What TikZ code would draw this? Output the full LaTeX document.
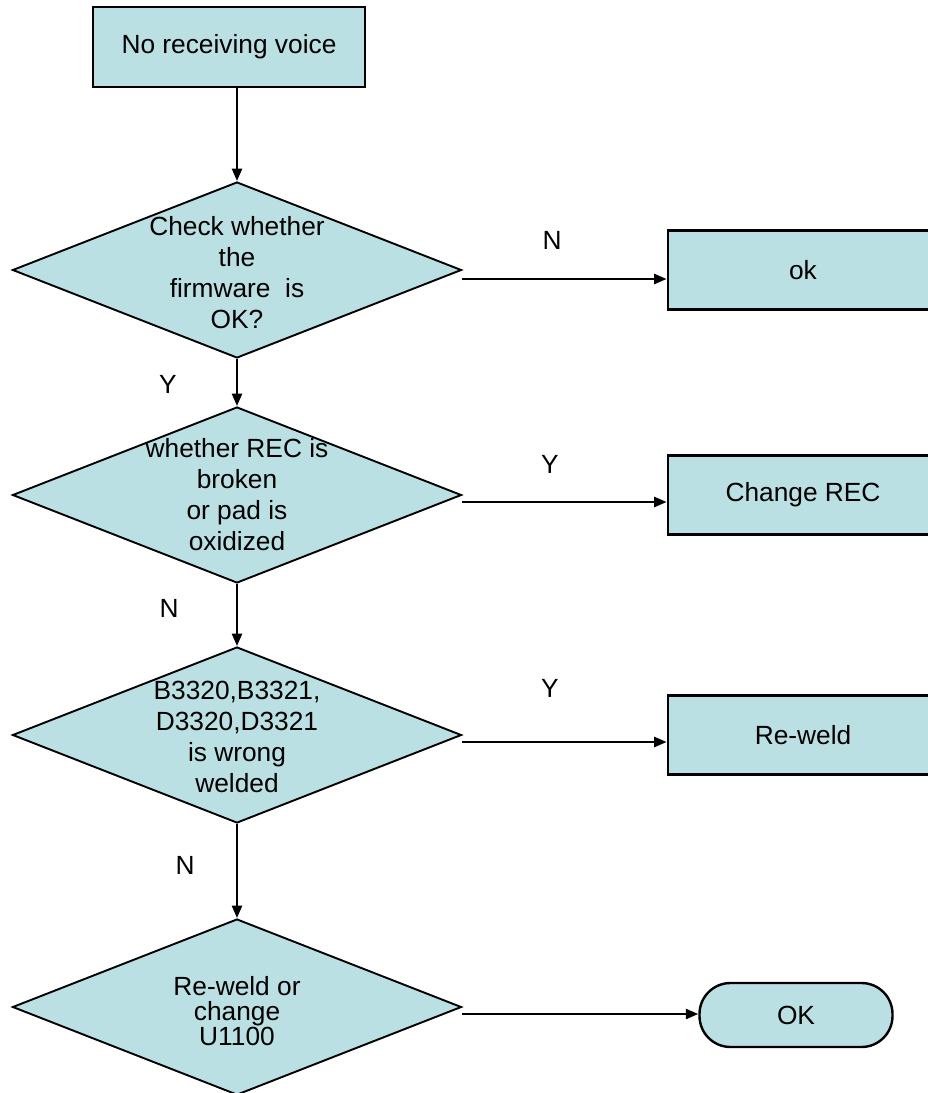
\documentclass[tikz,border=0pt]{standalone}
\usepackage{fontspec}
\setmainfont{Liberation Sans}
\usetikzlibrary{positioning, calc, arrows.meta, shapes.geometric}
\definecolor{boxfill}{RGB}{187,224,227}
\tikzset{
every node/.style = {font = \fontsize{26.3}{31}\selectfont},
process/.style = {rectangle, draw, line width = 2.7pt, fill = boxfill,
   inner sep = 0pt, align = center},
decision/.style = {diamond, draw, line width = 1.9pt, fill = boxfill,
   inner sep = 0pt, minimum width = 449pt, minimum height = 176pt},
terminal/.style = {rectangle, rounded corners = 31pt, draw, line width = 2.4pt,
   fill = boxfill, inner sep = 0pt, minimum width = 193pt, minimum height = 64pt},
flow/.style = {-{Triangle[length = 12.5pt, width = 10pt]}, line width = 2.5pt},
answer/.style = {inner sep = 0pt}
}

\begin{document}
\begin{tikzpicture}[x = 1pt, y = -1pt]
\clip (0,0) rectangle (928,1093);

%% Start
\node [process, minimum width = 272pt, minimum height = 80pt] (start) at (229,47)
   {No receiving voice};

%% Checks
\node [decision, label = {[align = center, yshift = -3pt]center:Check whether\\the\\firmware~ is\\OK?}]
   (firmware) at (237,270) {};
\node [decision, label = {[align = center]center:whether REC is\\broken\\or pad is\\oxidized}]
   (receiver) at (237,495) {};
\node [decision, label = {[align = center, yshift = -2pt]center:B3320,B3321,\\D3320,D3321\\is wrong\\welded}]
   (weld) at (237,735) {};
\node [decision, label = {[align = center, yshift = -4pt,
   font = \fontsize{26.3}{25}\selectfont]center:Re-weld or\\change\\U1100}]
   (chip) at (237,1007) {};

%% Actions
\node [process, minimum width = 270pt, minimum height = 79pt] (ok) at (803,270) {ok};
\node [process, minimum width = 270pt, minimum height = 79pt] (changerec) at (803,495) {Change REC};
\node [process, minimum width = 270pt, minimum height = 79pt] (reweld) at (803,735) {Re-weld};
\node [terminal] (okend) at (796,1015) {OK};

%% Main line
\draw [flow] (start.south -| firmware.north) -- (firmware.north);
\draw [flow] (firmware.south) -- (receiver.north);
\draw [flow] (receiver.south) -- (weld.north);
\draw [flow] (weld.south) -- (chip.north);

%% Branches
\draw [flow] ($(firmware.east)+(0,9)$) -- ($(firmware.east -| ok.west)+(0,9)$);
\draw [flow] ($(receiver.east)+(0,7)$) -- ($(receiver.east -| changerec.west)+(0,7)$);
\draw [flow] ($(weld.east)+(0,7)$) -- ($(weld.east -| reweld.west)+(0,7)$);
\draw [flow] ($(chip.east)+(0,7)$) -- ($(chip.east -| okend.west)+(0,7)$);

%% Answers
\node [answer] (a1) at (552,240) {N};
\node [answer] (a2) at (168,384) {Y};
\node [answer] (a3) at (550,464) {Y};
\node [answer] (a4) at (169,608) {N};
\node [answer] (a5) at (550,688) {Y};
\node [answer] (a6) at (185,865) {N};

\end{tikzpicture}
\end{document}
